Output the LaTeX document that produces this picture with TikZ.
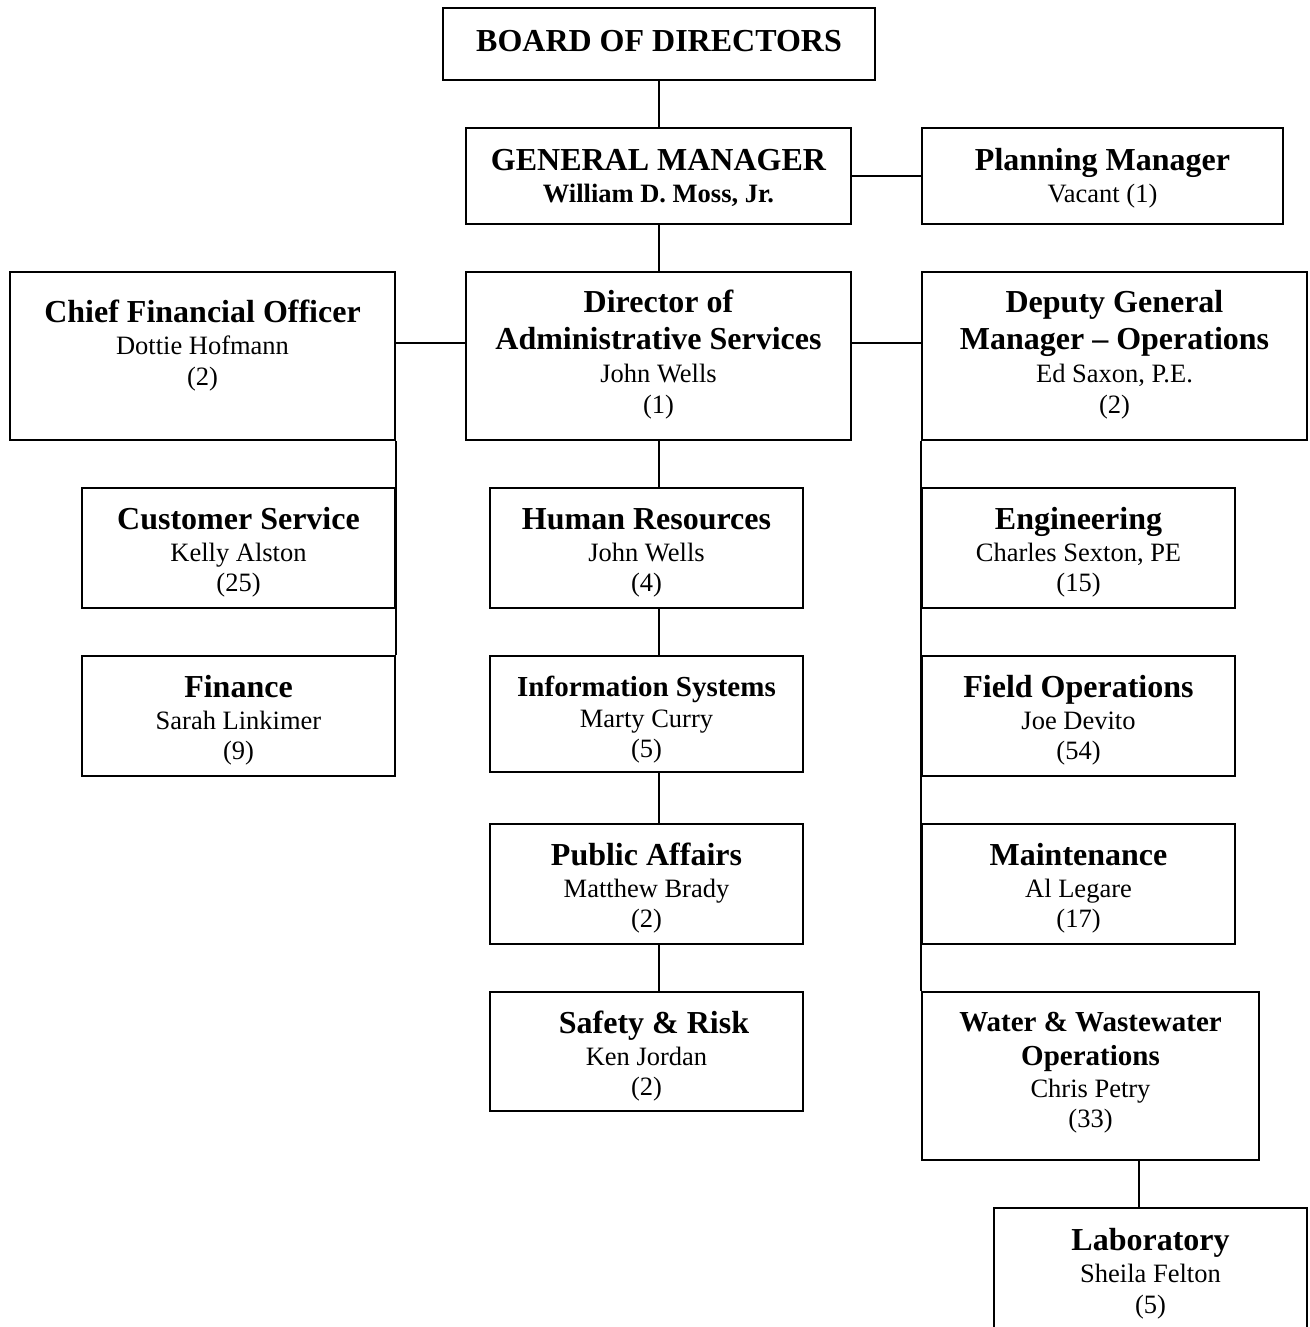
\documentclass[tikz,border=0pt]{standalone}
\usepackage{fontspec}
\setmainfont{Liberation Serif}
\newcommand\boxtitle{\fontsize{32}{33}\selectfont\bfseries}
\newcommand\boxsmalltitle{\fontsize{29}{33}\selectfont\bfseries}
% #1 width, #2 height, #3 first baseline from top, #4 lines
\newcommand\boxtext[4]{\begin{minipage}[c][#2pt][t]{#1pt}\centering
  \fontsize{26.5}{30}\selectfont\rule{0pt}{#3pt}#4\par\end{minipage}}
\begin{document}
\begin{tikzpicture}[x=1pt,y=-1pt,
  box/.style={draw, line width=1.8pt, inner sep=0pt},
  link/.style={line width=2pt}]
\useasboundingbox (0,0) rectangle (1309,1327);
\clip (0,0) rectangle (1309,1327);
\fill[white] (0,0) rectangle (1309,1327);

% top
\node[box] (board) at (659,44)
  {\boxtext{432}{72}{44}{{\boxtitle BOARD OF DIRECTORS}}};
\node[box] (gm) at (658.5,176)
  {\boxtext{385}{96}{42}{{\boxtitle GENERAL MANAGER}\\[2pt] {\bfseries William D. Moss, Jr.}}};
\node[box] (pm) at (1102.5,176)
  {\boxtext{361}{96}{42}{{\boxtitle Planning Manager}\\[2pt] Vacant (1)}};

% second row
\node[box] (cfo) at (202.5,356)
  {\boxtext{385}{168}{50}{{\boxtitle Chief Financial Officer}\\[2pt] Dottie Hofmann\\[1pt] (2)}};
\node[box] (das) at (658.5,356)
  {\boxtext{385}{168}{40}{{\boxtitle Director of}\\[7.5pt] {\boxtitle Administrative Services}\\[3pt] John Wells\\[1pt] (1)}};
\node[box] (dgm) at (1114.5,356)
  {\boxtext{385}{168}{40}{{\boxtitle Deputy General}\\[7.5pt] {\boxtitle Manager -- Operations}\\[3pt] Ed Saxon, P.E.\\[1pt] (2)}};

% left column
\node[box] (cs) at (238.5,548)
  {\boxtext{313}{120}{41}{{\boxtitle Customer Service}\\[2pt] Kelly Alston\\ (25)}};
\node[box] (fin) at (238.5,716)
  {\boxtext{313}{120}{41}{{\boxtitle Finance}\\[2pt] Sarah Linkimer\\ (9)}};

% middle column
\node[box] (hr) at (646.5,548)
  {\boxtext{313}{120}{41}{{\boxtitle Human Resources}\\[2pt] John Wells\\ (4)}};
\node[box] (is) at (646.5,714)
  {\boxtext{313}{116}{40}{{\boxsmalltitle Information Systems}\\[1pt] Marty Curry\\ (5)}};
\node[box] (pa) at (646.5,884)
  {\boxtext{313}{120}{41}{{\boxtitle Public Affairs}\\[2pt] Matthew Brady\\ (2)}};
\node[box] (sr) at (646.5,1051.5)
  {\boxtext{313}{119}{41}{{\boxtitle \hspace*{15pt}Safety \& Risk}\\[2pt] Ken Jordan\\ (2)}};

% right column
\node[box] (eng) at (1078.5,548)
  {\boxtext{313}{120}{41}{{\boxtitle Engineering}\\[2pt] Charles Sexton, PE\\ (15)}};
\node[box] (fo) at (1078.5,716)
  {\boxtext{313}{120}{41}{{\boxtitle Field Operations}\\[2pt] Joe Devito\\ (54)}};
\node[box] (mt) at (1078.5,884)
  {\boxtext{313}{120}{41}{{\boxtitle Maintenance}\\[2pt] Al Legare\\ (17)}};
\node[box] (ww) at (1090.5,1076)
  {\boxtext{337}{168}{39}{{\boxsmalltitle Water \& Wastewater}\\[4pt] {\boxsmalltitle Operations}\\[2pt] Chris Petry\\ (33)}};
\node[box] (lab) at (1150.5,1292)
  {\boxtext{313}{168}{42}{{\boxtitle Laboratory}\\[2pt] Sheila Felton\\[1pt] (5)}};

% connectors
\draw[link] (board.south) -- (board.south |- gm.north);
\draw[link] (gm.east) -- (pm.west);
\draw[link] (gm.south) -- (gm.south |- das.north);
\draw[link] ([yshift=13pt]das.west) -- ([yshift=13pt]cfo.east);
\draw[link] ([yshift=13pt]das.east) -- ([yshift=13pt]dgm.west);
\draw[link] (cfo.south east) -- (fin.north east);
\draw[link] (das.south) -- (das.south |- hr.north);
\draw[link] (das.south |- hr.south) -- (das.south |- is.north);
\draw[link] (das.south |- is.south) -- (das.south |- pa.north);
\draw[link] (das.south |- pa.south) -- (das.south |- sr.north);
\draw[link] (dgm.south west) -- (ww.north west);
\draw[link] ([xshift=48.5pt]ww.south) -- ([xshift=48.5pt]ww.south |- lab.north);
\end{tikzpicture}
\end{document}
